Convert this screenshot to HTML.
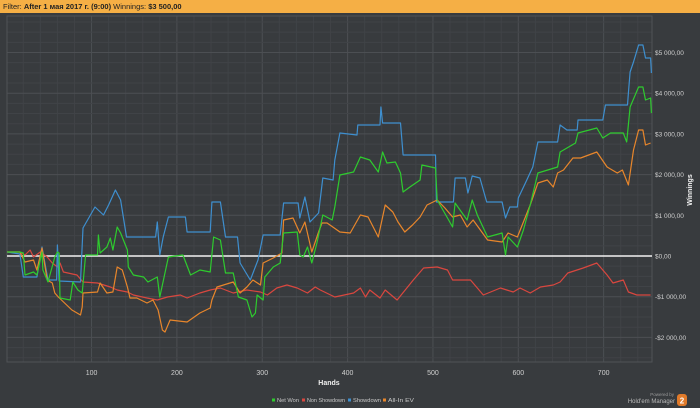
<!DOCTYPE html>
<html><head><meta charset="utf-8"><style>
body{margin:0;background:#383b3e;width:700px;height:408px;overflow:hidden;font-family:"Liberation Sans","Noto Sans CJK SC",sans-serif}
#hdr{position:absolute;left:0;top:0;width:700px;height:13px;background:#f5af45;font-size:7.5px;line-height:13px;color:#222;padding-left:3px;box-sizing:border-box}
svg{position:absolute;left:0;top:0}
</style></head><body>
<div id="hdr">Filter: <b>After 1 мая 2017 г. (9:00)</b> Winnings: <b>$3 500,00</b></div>
<svg id="c" width="700" height="408"></svg>
<script>
const xTicks=[100,200,300,400,500,600,700];
const yTicks=[-2000,-1000,0,1000,2000,3000,4000,5000];
const yTickLabels=["-$2 000,00","-$1 000,00","$0,00","$1 000,00","$2 000,00","$3 000,00","$4 000,00","$5 000,00"];
const showdownHands=[1,16,20,36,42,49,59,60,62,87,90,104,114,120,128,134,141,175,177,180,184,190,210,212,239,241,251,257,271,274,286,295,301,321,325,342,344,350,356,366,371,383,385,391,411,412,438,439,441,462,465,503,504,524,526,538,541,546,555,563,581,585,590,599,600,610,617,623,646,649,657,669,670,699,702,728,729,731,735,741,746,749,755,756];
const showdownVals=[98,49,-516,-516,221,-590,-590,270,-614,-639,688,1204,1007,1253,1622,1376,467,467,835,25,467,958,958,590,590,1327,1327,467,467,-172,-590,-98,516,516,1302,1302,934,1450,835,1057,1916,1867,2359,3022,2973,3219,3219,3661,3268,3268,2482,2482,1327,1327,1916,1916,1548,1966,1916,1327,1327,934,1204,1204,1425,1867,2187,2801,2801,3219,3096,3096,3342,3342,3710,3710,4005,4521,4767,5184,5184,4865,4865,4496];
const netHands=[1,16,20,22,32,36,42,43,49,57,60,62,63,75,78,84,89,93,107,108,110,118,122,125,130,134,142,143,149,161,166,177,180,190,207,216,227,239,243,251,257,266,272,282,288,292,294,301,303,313,321,325,341,344,348,353,358,364,371,382,385,391,407,415,426,436,441,446,456,462,465,473,485,487,503,505,517,523,526,540,546,552,564,581,585,588,599,606,614,623,646,649,667,670,692,699,708,723,727,731,741,746,749,755,756];
const netVals=[98,98,74,-467,-393,-467,98,-344,-639,-25,98,74,-1032,-1081,-639,-835,-909,25,25,516,74,221,442,147,713,565,147,-270,-467,-516,-639,-516,-1007,-25,25,-467,-344,-393,467,393,-418,-418,-1007,-1081,-1499,-1400,-958,-1081,-516,-270,-172,565,590,25,-25,221,-172,319,1007,884,1204,1990,2064,2432,2359,2064,2555,2285,2310,2039,1572,1695,1867,2236,2162,1376,934,713,1302,885,1376,1007,467,565,25,467,221,639,1253,2039,2187,2555,2776,3022,3145,2899,3022,3022,2801,3661,4152,4152,3833,3882,3514];
const evHands=[1,16,22,32,36,42,48,54,57,61,77,87,89,90,107,110,118,125,130,136,142,145,153,165,172,178,183,186,192,212,227,239,241,247,266,274,282,289,298,301,313,323,325,336,344,350,358,366,370,376,391,403,415,424,436,444,453,459,467,476,485,493,505,514,523,532,540,547,564,581,588,599,606,614,623,634,641,646,653,664,673,692,704,716,722,729,735,741,746,749,755];
const evVals=[98,98,-147,-98,-344,197,-590,-663,-909,-1007,-1327,-1450,-1253,-909,-885,-663,-909,-885,-270,-344,-762,-1032,-1032,-1155,-1081,-1327,-1818,-1867,-1572,-1622,-1400,-1278,-1081,-762,-639,-909,-762,-590,-713,-172,-49,74,885,934,565,835,98,590,811,811,590,565,1007,958,467,1253,1081,835,590,762,958,1253,1376,1179,958,1007,713,885,393,344,565,467,835,1253,1794,1867,1695,2039,2113,2408,2408,2555,2187,2039,2113,1744,2604,3096,3096,2727,2776];
const nsdHands=[1,16,22,28,32,40,48,54,60,63,67,83,90,107,122,130,142,149,165,177,189,204,212,227,239,251,266,282,298,306,317,329,341,353,362,368,385,407,415,421,426,438,444,458,477,489,505,517,523,544,559,579,594,602,614,626,641,649,658,676,692,704,711,723,729,739,755];
const nsdVals=[98,98,25,147,-25,98,-25,-172,-270,-172,-393,-467,-639,-663,-762,-835,-885,-958,-1032,-1081,-1007,-958,-1032,-909,-835,-786,-909,-835,-885,-958,-786,-713,-786,-909,-762,-835,-1007,-909,-786,-1007,-835,-1032,-835,-1081,-590,-295,-270,-344,-590,-590,-958,-786,-885,-786,-909,-762,-713,-639,-418,-295,-172,-467,-663,-590,-885,-958,-958];

const NS='http://www.w3.org/2000/svg';
const svg=document.getElementById('c');
const L=7,R=652,T=16,B=362;
const X=h=>6.2+h*0.8535;
const Y=v=>256-v*0.0407;
function mk(t,a,p){const e=document.createElementNS(NS,t);for(const k in a)e.setAttribute(k,a[k]);(p||svg).appendChild(e);return e;}
const grid=mk('g',{});


for(let h=0;h<=760;h+=20){const x=X(h);if(x<L||x>R)continue;mk('line',{x1:x,x2:x,y1:T,y2:B,stroke:h%100==0?'#4c4f53':'#404347','stroke-width':1},grid);}
for(let v=-2500;v<=5750;v+=250){const y=Y(v);if(y<T||y>B)continue;mk('line',{x1:L,x2:R,y1:y,y2:y,stroke:v%1000==0?'#4c4f53':'#404347','stroke-width':1},grid);}
const frame=mk('rect',{x:L,y:T,width:R-L,height:B-T,fill:'none',stroke:'#505357'});


xTicks.forEach(h=>{const t=mk('text',{x:X(h),y:375,fill:'#d0d0d0','font-size':7,'text-anchor':'middle'});t.textContent=h;

});
yTicks.forEach((v,i)=>{const t=mk('text',{x:655,y:Y(v)+2.5,fill:'#d0d0d0','font-size':6.5});t.textContent=yTickLabels[i];

});
const xt=mk('text',{x:329,y:385,fill:'#f0f0f0','font-size':7,'font-weight':'bold','text-anchor':'middle'});xt.textContent='Hands';


const yt=mk('text',{x:692,y:190,fill:'#f0f0f0','font-size':7,'font-weight':'bold','text-anchor':'middle',transform:'rotate(-90 692 190)'});yt.textContent='Winnings';


function line(hs,vs,col,name){const d=hs.map((h,i)=>(i?'L':'M')+X(h).toFixed(1)+' '+Y(vs[i]).toFixed(1)).join('');const p=mk('path',{d:d,fill:'none',stroke:col,'stroke-width':1.2,'stroke-linejoin':'round'});

}
const z=mk('line',{x1:L,x2:R,y1:Y(0),y2:Y(0),stroke:'#f2f2f2','stroke-width':1.6});


line(nsdHands,nsdVals,'#d9473f','non-showdown-line');
line(showdownHands,showdownVals,'#3e8fcf','showdown-line');
line(evHands,evVals,'#e8862b','all-in-ev-line');
line(netHands,netVals,'#2ecb2e','net-won-line');
const leg=[['Net Won','#2ecb2e',272,22],['Non Showdown','#d9473f',302,38],['Showdown','#3e8fcf',348,28],['All-In EV','#e8862b',383,26]];
leg.forEach(l=>{const g=mk('g',{});


mk('rect',{x:l[2],y:398.5,width:3,height:3,fill:l[1]},g);const t=mk('text',{x:l[2]+5,y:402,fill:'#c8c8c8','font-size':5.5,textLength:l[3],lengthAdjust:'spacingAndGlyphs'},g);t.textContent=l[0];});
const lg=mk('g',{});


const a=mk('text',{x:674,y:396,fill:'#999','font-size':4.5,'text-anchor':'end'},lg);a.textContent='Powered by';
const b=mk('text',{x:675,y:403,fill:'#bbb','font-size':6,'text-anchor':'end'},lg);b.textContent="Hold'em Manager";
mk('rect',{x:677,y:394,width:10,height:12,rx:3,fill:'#e07a2a'},lg);
const c=mk('text',{x:682,y:403.5,fill:'#fff','font-size':8,'font-weight':'bold','text-anchor':'middle'},lg);c.textContent='2';
</script>
</body></html>
